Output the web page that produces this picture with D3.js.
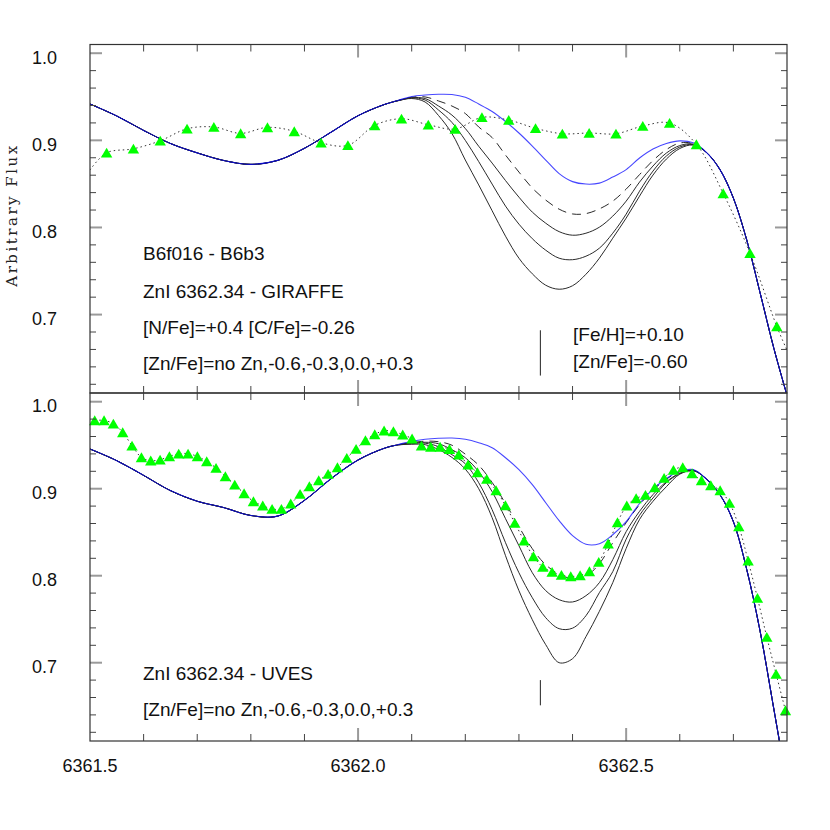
<!DOCTYPE html>
<html><head><meta charset="utf-8">
<script src="https://cdn.jsdelivr.net/npm/d3@7"></script>
<style>body{margin:0;background:#fff}svg{display:block}</style>
</head><body><svg id="c" width="830" height="830"></svg>
<script>
// ---------------- DATA ----------------
const modelWave = [6361.50,6361.55,6361.60,6361.65,6361.70,6361.75,6361.80,6361.85,6361.90,6361.95,6362.00,6362.05,6362.075,
  6362.10,6362.125,6362.15,6362.175,6362.20,6362.225,6362.25,6362.275,6362.30,6362.325,6362.35,6362.375,6362.40,
  6362.425,6362.45,6362.475,6362.50,6362.525,6362.55,6362.575,6362.60,6362.625,6362.65,6362.675,6362.70,6362.725,
  6362.75,6362.775,6362.80];

// GIRAFFE panel synthetic spectra
const topNoZn  = [0.9417,0.9279,0.9114,0.8964,0.8856,0.8768,0.8724,0.8770,0.8909,0.9095,0.9283,0.9413,0.9460,
  0.9503,0.9520,0.9529,0.9526,0.9494,0.9417,0.9331,0.9216,0.9084,0.8934,0.8774,0.8618,0.8526,0.8498,0.8509,0.8578,0.8664,0.8797,0.8900,0.8963,0.8994,0.8971,
  0.8860,0.8664,0.8337,0.7854,0.7245,0.6624,0.6073];
const topZnM06 = [0.9417,0.9279,0.9114,0.8964,0.8856,0.8768,0.8724,0.8770,0.8909,0.9095,0.9283,0.9413,0.9458,
  0.9494,0.9498,0.9452,0.9394,0.9308,0.9153,0.9032,0.8831,0.8636,0.8452,0.8314,0.8210,0.8155,0.8159,0.8213,0.8302,0.8440,0.8607,0.8768,0.8894,0.8969,0.8963,
  0.8860,0.8664,0.8337,0.7854,0.7245,0.6624,0.6073];
const topZnM03 = [0.9417,0.9279,0.9114,0.8964,0.8856,0.8768,0.8724,0.8770,0.8909,0.9095,0.9283,0.9413,0.9457,
  0.9489,0.9480,0.9394,0.9290,0.9136,0.8932,0.8739,0.8538,0.8348,0.8176,0.8049,0.7952,0.7911,0.7934,0.8003,0.8130,0.8302,0.8521,0.8705,0.8854,0.8940,0.8957,
  0.8860,0.8664,0.8337,0.7854,0.7245,0.6624,0.6073];
const topZn00  = [0.9417,0.9279,0.9114,0.8964,0.8856,0.8768,0.8724,0.8770,0.8909,0.9095,0.9283,0.9413,0.9456,
  0.9486,0.9463,0.9348,0.9206,0.9000,0.8756,0.8498,0.8245,0.8038,0.7871,0.7739,0.7647,0.7630,0.7670,0.7762,0.7934,0.8153,0.8417,0.8647,0.8820,0.8923,0.8951,
  0.8860,0.8664,0.8337,0.7854,0.7245,0.6624,0.6073];
const topZnP03 = [0.9417,0.9279,0.9114,0.8964,0.8856,0.8768,0.8724,0.8770,0.8909,0.9095,0.9283,0.9413,0.9455,
  0.9480,0.9440,0.9285,0.9079,0.8774,0.8488,0.8192,0.7900,0.7647,0.7468,0.7337,0.7291,0.7331,0.7463,0.7647,0.7877,0.8107,0.8360,0.8601,0.8785,0.8906,0.8946,
  0.8860,0.8664,0.8337,0.7854,0.7245,0.6624,0.6073];

// UVES panel synthetic spectra
const botNoZn  = [0.9456,0.9322,0.9153,0.8978,0.8856,0.8782,0.8692,0.8685,0.8866,0.9117,0.9330,0.9467,0.9508,
  0.9546,0.9569,0.9580,0.9583,0.9569,0.9529,0.9471,0.9356,0.9218,0.9046,0.8839,0.8632,0.8460,0.8362,0.8368,0.8471,0.8621,0.8830,0.8995,0.9118,0.9200,0.9220,
  0.9109,0.8931,0.8621,0.8069,0.7356,0.6483,0.5598];
const botZnM06 = [0.9456,0.9322,0.9153,0.8978,0.8856,0.8782,0.8692,0.8685,0.8866,0.9117,0.9330,0.9467,0.9506,
  0.9529,0.9546,0.9540,0.9500,0.9397,0.9270,0.9072,0.8830,0.8563,0.8310,0.8126,0.8017,0.7966,0.7994,0.8138,0.8379,0.8609,0.8816,0.8983,0.9109,0.9195,0.9213,
  0.9109,0.8931,0.8621,0.8069,0.7356,0.6483,0.5598];
const botZnM03 = [0.9456,0.9322,0.9153,0.8978,0.8856,0.8782,0.8692,0.8685,0.8866,0.9117,0.9330,0.9467,0.9505,
  0.9523,0.9534,0.9517,0.9448,0.9356,0.9195,0.8966,0.8655,0.8345,0.8034,0.7828,0.7724,0.7698,0.7770,0.7920,0.8184,0.8506,0.8740,0.8932,0.9080,0.9178,0.9213,
  0.9109,0.8931,0.8621,0.8069,0.7356,0.6483,0.5598];
const botZn00  = [0.9456,0.9322,0.9153,0.8978,0.8856,0.8782,0.8692,0.8685,0.8866,0.9117,0.9330,0.9467,0.9504,
  0.9517,0.9523,0.9483,0.9391,0.9287,0.9069,0.8759,0.8379,0.8034,0.7747,0.7517,0.7391,0.7397,0.7540,0.7805,0.8046,0.8420,0.8695,0.8893,0.9069,0.9172,0.9207,
  0.9109,0.8931,0.8621,0.8069,0.7356,0.6483,0.5598];
const botZnP03 = [0.9456,0.9322,0.9153,0.8978,0.8856,0.8782,0.8692,0.8685,0.8866,0.9117,0.9330,0.9467,0.9503,
  0.9511,0.9506,0.9450,0.9360,0.9225,0.9000,0.8667,0.8230,0.7828,0.7494,0.7207,0.7000,0.7046,0.7299,0.7590,0.7920,0.8313,0.8647,0.8855,0.9023,0.9167,0.9207,
  0.9109,0.8931,0.8621,0.8069,0.7356,0.6483,0.5598];

// Observed spectra
const topObsWave = [6361.531,6361.581,6361.631,6361.681,6361.731,6361.781,6361.831,6361.881,6361.931,6361.981,
  6362.031,6362.081,6362.131,6362.181,6362.231,6362.281,6362.331,6362.381,6362.431,6362.481,6362.531,6362.581,
  6362.631,6362.681,6362.731,6362.781];
const topObsFlux = [0.8857,0.8903,0.8995,0.9133,0.9153,0.9080,0.9149,0.9103,0.8972,0.8943,0.9172,0.9248,0.9179,
  0.9130,0.9264,0.9233,0.9138,0.9076,0.9084,0.9076,0.9164,0.9199,0.8954,0.8391,0.7705,0.6864];
const topObsEdgeWave = [6361.50, 6362.80];
const topObsEdgeFlux = [0.866, 0.659];

const botObsWave = [6361.5088,6361.5262,6361.5436,6361.5610,6361.5784,6361.5959,6361.6133,6361.6307,6361.6481,6361.6655,
  6361.6829,6361.7003,6361.7177,6361.7351,6361.7525,6361.7700,6361.7874,6361.8048,6361.8222,6361.8396,
  6361.8570,6361.8744,6361.8918,6361.9092,6361.9266,6361.9441,6361.9615,6361.9789,6361.9963,6362.0137,
  6362.0311,6362.0485,6362.0659,6362.0833,6362.1007,6362.1182,6362.1356,6362.1530,6362.1704,6362.1878,
  6362.2052,6362.2226,6362.2400,6362.2574,6362.2748,6362.2923,6362.3097,6362.3271,6362.3445,6362.3619,
  6362.3793,6362.3967,6362.4141,6362.4315,6362.4489,6362.4664,6362.4838,6362.5012,6362.5186,6362.5360,
  6362.5534,6362.5708,6362.5882,6362.6056,6362.6230,6362.6405,6362.6579,6362.6753,6362.6927,6362.7101,
  6362.7275,6362.7449,6362.7623,6362.7797,6362.7971];
const botObsFlux = [0.9785,0.9785,0.9747,0.9647,0.9494,0.9360,0.9322,0.9333,0.9371,0.9402,
  0.9402,0.9371,0.9314,0.9238,0.9141,0.9046,0.8946,0.8854,0.8805,0.8767,
  0.8767,0.8828,0.8939,0.9026,0.9095,0.9169,0.9245,0.9353,0.9456,0.9555,
  0.9624,0.9667,0.9659,0.9621,0.9575,0.9494,0.9480,0.9480,0.9455,0.9391,
  0.9276,0.9187,0.9111,0.8980,0.8808,0.8606,0.8402,0.8222,0.8100,0.8043,
  0.8008,0.7992,0.8003,0.8049,0.8157,0.8368,0.8613,0.8805,0.8889,0.8928,
  0.9015,0.9123,0.9215,0.9245,0.9176,0.9095,0.9038,0.8980,0.8836,0.8567,
  0.8172,0.7744,0.7295,0.6870,0.6452];

const znLineWave = 6362.34;
const znMarkTop = [0.682, 0.630];
const znMarkBot = [0.680, 0.651];
const xMajorTicks = [6361.5, 6362.0, 6362.5];
const xTickLabels = ["6361.5", "6362.0", "6362.5"];
const yMajorTicks = [0.7, 0.8, 0.9, 1.0];
const yTickLabels = ["0.7", "0.8", "0.9", "1.0"];
const topTexts = ["B6f016 - B6b3", "ZnI 6362.34 - GIRAFFE", "[N/Fe]=+0.4 [C/Fe]=-0.26", "[Zn/Fe]=no Zn,-0.6,-0.3,0.0,+0.3"];
const topRightTexts = ["[Fe/H]=+0.10", "[Zn/Fe]=-0.60"];
const botTexts = ["ZnI 6362.34 - UVES", "[Zn/Fe]=no Zn,-0.6,-0.3,0.0,+0.3"];
const yAxisTitle = "Arbitrary Flux";

// ---------------- DRAW ----------------
const svg = d3.select("#c");
const SANS = "'Liberation Sans', Arial, Helvetica, sans-serif";
const X0 = 90, X1 = 787;
const x = d3.scaleLinear().domain([6361.5, 6362.8]).range([X0, X1]);
const xMinor = d3.range(6361.6, 6362.8, 0.1).map(v => +v.toFixed(2)).filter(v => Math.abs(v - 6362.0) > 1e-6 && Math.abs(v - 6362.5) > 1e-6);
const yMinor = d3.range(0.62, 1.001, 0.02).map(v => +v.toFixed(2)).filter(v => !yMajorTicks.some(m => Math.abs(m - v) < 1e-6));

const panels = [
  {top: 44.5, bottom: 393, models: [topNoZn, topZnM06, topZnM03, topZn00, topZnP03],
   obsW: topObsWave, obsF: topObsFlux, edges: true, xlabels: false, marker: znMarkTop},
  {top: 393, bottom: 741, models: [botNoZn, botZnM06, botZnM03, botZn00, botZnP03],
   obsW: botObsWave, obsF: botObsFlux, edges: false, xlabels: true, marker: znMarkBot}
];

const defs = svg.append("defs");

panels.forEach((p, pi) => {
  const y = d3.scaleLinear().domain([0.61, 1.01]).range([p.bottom, p.top]);
  const clipId = "clip" + pi;
  defs.append("clipPath").attr("id", clipId).append("rect")
    .attr("x", X0).attr("y", p.top).attr("width", X1 - X0).attr("height", p.bottom - p.top);
  const g = svg.append("g");
  const plot = g.append("g").attr("clip-path", `url(#${clipId})`);

  const line = d3.line().x(d => x(d[0])).y(d => y(d[1])).curve(d3.curveCatmullRom.alpha(0.5));

  // black curves: +0.3, 0.0, -0.3 solid, -0.6 dashed
  [4, 3, 2, 1].forEach(k => {
    const pts = modelWave.map((w, i) => [w, p.models[k][i]]);
    plot.append("path").attr("d", line(pts)).attr("fill", "none")
      .attr("stroke", "#2a2a2a").attr("stroke-width", 1)
      .attr("stroke-dasharray", k === 1 ? "9,6" : null);
  });
  // blue no-Zn curve on top
  plot.append("path").attr("d", line(modelWave.map((w, i) => [w, p.models[0][i]])))
    .attr("fill", "none").attr("stroke", "#0000ff").attr("stroke-opacity", 0.72).attr("stroke-width", 1.1);

  // observed dotted line
  let obsPts = p.obsW.map((w, i) => [w, p.obsF[i]]);
  const triPts = obsPts.slice();
  if (p.edges) obsPts = [[topObsEdgeWave[0], topObsEdgeFlux[0]], ...obsPts, [topObsEdgeWave[1], topObsEdgeFlux[1]]];
  plot.append("path").attr("d", line(obsPts)).attr("fill", "none")
    .attr("stroke", "#333").attr("stroke-width", 1).attr("stroke-dasharray", "1.5,3");

  // Zn line marker
  g.append("line").attr("x1", x(znLineWave)).attr("x2", x(znLineWave))
    .attr("y1", y(p.marker[0])).attr("y2", y(p.marker[1]))
    .attr("stroke", "#222").attr("stroke-width", 1);

  // triangles
  const tri = d3.symbol().type(d3.symbolTriangle).size(56);
  g.selectAll("path.tri").data(triPts)
    .join("path").attr("class", "tri").attr("d", tri)
    .attr("transform", d => `translate(${x(d[0])},${y(d[1]) + 1.5})`)
    .attr("fill", "#00ff00");

  // ticks (inward) on all sides
  const tk = g.append("g");
  const tick = (x1, y1, x2, y2, major) => tk.append("line").attr("x1", x1).attr("y1", y1).attr("x2", x2).attr("y2", y2)
    .attr("stroke", major ? "#9a9a9a" : "#444").attr("stroke-width", major ? 2 : 1);
  xMinor.forEach(v => { tick(x(v), p.bottom, x(v), p.bottom - 7, false); tick(x(v), p.top, x(v), p.top + 7, false); });
  xMajorTicks.forEach(v => { if (v > 6361.5) { tick(x(v), p.bottom, x(v), p.bottom - 13, true); tick(x(v), p.top, x(v), p.top + 13, true); } });
  yMinor.forEach(v => { tick(X0, y(v), X0 + 6, y(v), false); tick(X1, y(v), X1 - 6, y(v), false); });
  yMajorTicks.forEach(v => { tick(X0, y(v), X0 + 12, y(v), true); tick(X1, y(v), X1 - 12, y(v), true); });

  // frame
  g.append("rect").attr("x", X0).attr("y", p.top).attr("width", X1 - X0).attr("height", p.bottom - p.top)
    .attr("fill", "none").attr("stroke", "#333").attr("stroke-width", 1.2);

  // y labels
  yMajorTicks.forEach((v, i) => {
    g.append("text").attr("x", 57).attr("y", y(v) + 10.5).attr("text-anchor", "end")
      .attr("font-family", SANS).attr("font-size", 18).attr("fill", "#111").text(yTickLabels[i]);
  });
  if (p.xlabels) {
    xMajorTicks.forEach((v, i) => {
      g.append("text").attr("x", x(v)).attr("y", 772).attr("text-anchor", "middle")
        .attr("font-family", SANS).attr("font-size", 18).attr("fill", "#111").text(xTickLabels[i]);
    });
  }
});

// annotations
const ann = svg.append("g").attr("font-family", SANS).attr("font-size", 19).attr("fill", "#111");
[260, 298, 334, 370].forEach((yy, i) => ann.append("text").attr("x", 143).attr("y", yy).text(topTexts[i]));
[341, 368].forEach((yy, i) => ann.append("text").attr("x", 573).attr("y", yy).text(topRightTexts[i]));
[680, 716].forEach((yy, i) => ann.append("text").attr("x", 143).attr("y", yy).text(botTexts[i]));

svg.append("text").attr("transform", "translate(17,215) rotate(-90)").attr("text-anchor", "middle")
  .attr("font-family", "'DejaVu Serif', serif").attr("font-size", 15).attr("letter-spacing", "2.5px")
  .attr("fill", "#222").text(yAxisTitle);
</script></body></html>
